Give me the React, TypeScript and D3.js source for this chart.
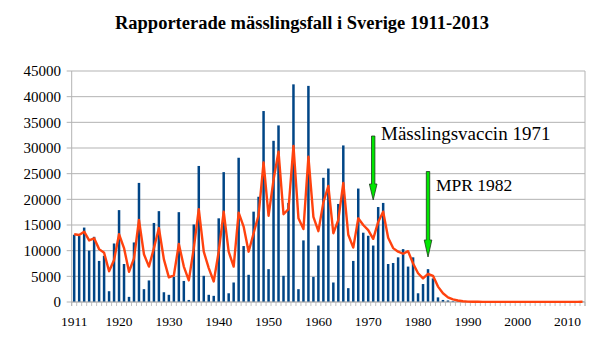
import React, { useEffect } from "react";
import * as d3 from "d3";

const firstYear = 1911;
const lastYear = 2013;
const years: number[] = d3.range(firstYear, lastYear + 1);

// Reported cases (thousands) per year
const cases: number[] = [
  13.1, 12.9, 14.5, 10.0, 12.7, 8.0, 9.0, 2.1, 11.4, 17.9, // 1911-1920
  7.4, 1.0, 11.6, 23.2, 2.5, 4.2, 15.4, 17.7, 1.9, 1.4, // 1921-1930
  4.9, 17.5, 4.1, 0.4, 15.1, 26.5, 5.1, 1.4, 1.2, 16.3, // 1931-1940
  25.3, 1.7, 3.8, 28.1, 10.9, 5.3, 17.6, 20.5, 37.2, 6.4, // 1941-1950
  31.4, 34.4, 5.1, 19.3, 42.4, 2.5, 12.0, 42.1, 4.9, 11.0, // 1951-1960
  24.2, 26.0, 3.8, 19.1, 30.5, 2.7, 8.0, 22.1, 13.5, 12.9, // 1961-1970
  11.0, 18.5, 19.3, 7.4, 7.6, 8.7, 10.3, 6.9, 8.7, 1.7, // 1971-1980
  3.5, 6.4, 4.6, 0.9, 0.4, 0.3, 0.15, 0.1, 0.05, 0.04, // 1981-1990
  0.03, 0.02, 0.03, 0.02, 0.03, 0.02, 0.01, 0.01, 0.02, 0.01, // 1991-2000
  0.02, 0.01, 0.03, 0.01, 0.01, 0.01, 0.01, 0.02, 0.01, 0.01, // 2001-2010
  0.03, 0.03, 0.05, // 2011-2013
];

// Smoothed trend line (thousands)
const trend: number[] = [
  13.2, 13.05, 13.7, 12.0, 12.4, 10.3, 9.6, 6.0, 8.2, 13.2, // 1911-1920
  10.5, 5.9, 8.5, 16.0, 9.3, 6.9, 10.5, 14.4, 8.3, 4.8, // 1921-1930
  5.2, 11.3, 6.9, 4.2, 10.5, 18.1, 9.8, 6.6, 4.0, 9.8, // 1931-1940
  17.6, 9.8, 6.9, 17.4, 14.7, 9.8, 13.4, 16.9, 27.2, 16.8, // 1941-1950
  23.8, 29.3, 17.1, 18.1, 30.4, 16.3, 14.2, 28.3, 16.6, 13.8, // 1951-1960
  19.4, 22.6, 13.4, 16.0, 23.2, 13.1, 10.6, 16.3, 15.0, 14.0, // 1961-1970
  12.3, 15.6, 17.6, 12.5, 10.5, 9.8, 9.4, 9.9, 7.5, 5.6, // 1971-1980
  4.6, 5.5, 5.1, 3.0, 1.7, 0.9, 0.5, 0.3, 0.15, 0.08, // 1981-1990
  0.05, 0.04, 0.03, 0.03, 0.03, 0.02, 0.02, 0.02, 0.02, 0.02, // 1991-2000
  0.02, 0.02, 0.02, 0.02, 0.02, 0.02, 0.02, 0.02, 0.02, 0.02, // 2001-2010
  0.02, 0.03, 0.04, // 2011-2013
];

const yTicks: number[] = d3.range(0, 45001, 5000);
const xLabelYears: number[] = [1911, 1920, 1930, 1940, 1950, 1960, 1970, 1980, 1990, 2000, 2010];

const title = "Rapporterade mässlingsfall i Sverige 1911-2013";
const annotations = [
  { year: 1971, label: "Mässlingsvaccin 1971", top: 136, headStart: 184, tip: 200, textX: 381, textY: 140, size: 19 },
  { year: 1982, label: "MPR 1982", top: 171.5, headStart: 240, tip: 257, textX: 436, textY: 191, size: 17.5 },
];

const W = 615;
const H = 347;
const left = 71.7;
const right = 585;
const top = 71;
const bottom = 302;

export default function App() {
  useEffect(() => {
    document.body.style.margin = "0";
  }, []);

  const x = d3
    .scaleBand<number>()
    .domain(years)
    .range([left, right])
    .paddingInner(0.5)
    .paddingOuter(0.25);
  const step = x.step();
  const cx = (yr: number) => (x(yr) as number) + x.bandwidth() / 2;
  const y = d3.scaleLinear().domain([0, 45000]).range([bottom, top]);

  const line = d3
    .line<number>()
    .x((_, i) => cx(years[i]))
    .y((v) => y(v * 1000));

  const grid = "#b3b3b3";
  const font = "'Liberation Serif', 'Times New Roman', serif";

  return (
    <svg width={W} height={H} style={{ display: "block", background: "#fff" }} fontFamily={font}>
      <text x={302} y={29} textAnchor="middle" fontSize={18.5} fontWeight="bold" fill="#000">
        {title}
      </text>
      {yTicks.map((t) => (
        <g key={t}>
          <line x1={left - 5} x2={right} y1={y(t)} y2={y(t)} stroke={grid} strokeWidth={1} />
          <text x={61} y={y(t)} dy="0.35em" textAnchor="end" fontSize={15} fill="#000">
            {t}
          </text>
        </g>
      ))}
      <line x1={left} x2={left} y1={top} y2={bottom + 4} stroke={grid} strokeWidth={1} />
      <line x1={right} x2={right} y1={top} y2={bottom + 4} stroke={grid} strokeWidth={1} />
      {d3.range(0, years.length + 1).map((i) => (
        <line
          key={i}
          x1={left + step * i}
          x2={left + step * i}
          y1={bottom}
          y2={bottom + 4}
          stroke={grid}
          strokeWidth={0.8}
        />
      ))}
      {years.map((yr, i) => (
        <rect
          key={yr}
          x={x(yr)}
          width={x.bandwidth()}
          y={y(cases[i] * 1000)}
          height={bottom - y(cases[i] * 1000)}
          fill="#004586"
        />
      ))}
      <line x1={left} x2={right} y1={bottom} y2={bottom} stroke={grid} strokeWidth={1} />
      <path d={line(trend) || ""} fill="none" stroke="#ff420e" strokeWidth={2.4} strokeLinejoin="round" />
      {xLabelYears.map((yr) => (
        <text key={yr} x={cx(yr)} y={326} textAnchor="middle" fontSize={13.5} fill="#000">
          {yr}
        </text>
      ))}
      {annotations.map((a) => {
        const ax = cx(a.year);
        const sw = 1.7;
        const hw = 3.8;
        const d = `M${ax - sw},${a.top} L${ax + sw},${a.top} L${ax + sw},${a.headStart} L${ax + hw},${a.headStart} L${ax},${a.tip} L${ax - hw},${a.headStart} L${ax - sw},${a.headStart} Z`;
        return (
          <g key={a.year}>
            <path d={d} fill="#00e600" stroke="#1a3a1a" strokeWidth={0.8} />
            <text x={a.textX} y={a.textY} fontSize={a.size} fill="#000">
              {a.label}
            </text>
          </g>
        );
      })}
    </svg>
  );
}
